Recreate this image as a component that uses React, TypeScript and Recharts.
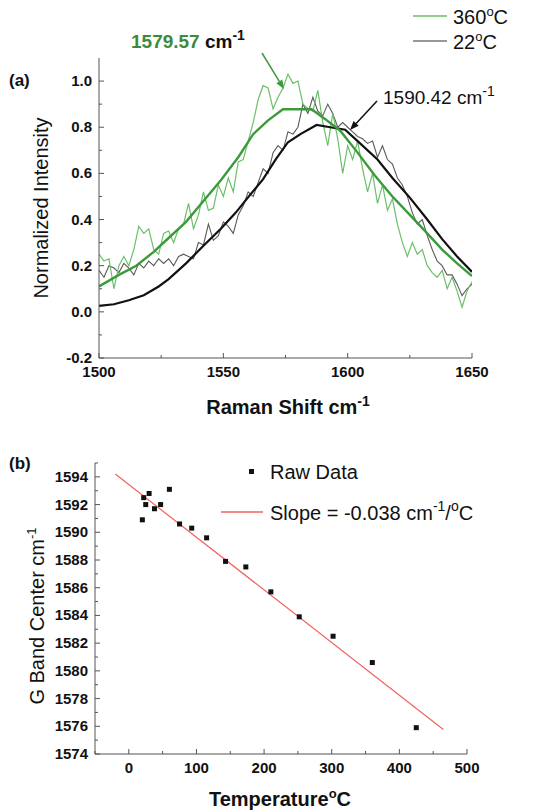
import React from "react";
import {
  LineChart,
  ComposedChart,
  Line,
  Scatter,
  XAxis,
  YAxis,
} from "recharts";

// (a) Raman spectra
const ramanShift = [
  1500, 1502, 1504, 1506, 1508, 1510, 1512, 1514, 1516, 1518, 1520, 1522, 1524, 1526, 1528, 1530,
  1532, 1534, 1536, 1538, 1540, 1542, 1544, 1546, 1548, 1550, 1552, 1554, 1556, 1558, 1560, 1562,
  1564, 1566, 1568, 1570, 1572, 1574, 1576, 1578, 1580, 1582, 1584, 1586, 1588, 1590, 1592, 1594,
  1596, 1598, 1600, 1602, 1604, 1606, 1608, 1610, 1612, 1614, 1616, 1618, 1620, 1622, 1624, 1626,
  1628, 1630, 1632, 1634, 1636, 1638, 1640, 1642, 1644, 1646, 1648, 1650,
];
const raw360 = [
  0.25, 0.22, 0.23, 0.1, 0.2, 0.24, 0.2, 0.27, 0.37, 0.34, 0.36, 0.27, 0.25, 0.34, 0.35, 0.3,
  0.36, 0.38, 0.47, 0.36, 0.42, 0.52, 0.44, 0.45, 0.55, 0.5, 0.58, 0.52, 0.65, 0.66, 0.74, 0.82,
  0.92, 0.98, 0.97, 0.88, 0.93, 0.97, 1.03, 0.99, 1.0, 0.9, 0.88, 0.87, 0.96, 0.82, 0.72, 0.86,
  0.75, 0.6, 0.72, 0.66, 0.74, 0.62, 0.52, 0.6, 0.47, 0.55, 0.44, 0.49, 0.38, 0.3, 0.24, 0.3,
  0.25, 0.27, 0.2, 0.17, 0.15, 0.18, 0.1, 0.15, 0.09, 0.02, 0.09, 0.13,
];
const raw22 = [
  0.18, 0.15, 0.2, 0.19, 0.17, 0.21, 0.19, 0.16, 0.21, 0.19, 0.22, 0.2, 0.23, 0.21, 0.23, 0.2,
  0.24, 0.25, 0.24, 0.23, 0.3, 0.29, 0.38, 0.31, 0.33, 0.39, 0.37, 0.34, 0.42, 0.46, 0.52, 0.5,
  0.56, 0.62, 0.6, 0.69, 0.72, 0.7, 0.78, 0.77, 0.8, 0.9, 0.86, 0.93, 0.87, 0.85, 0.9, 0.86,
  0.8, 0.82, 0.8, 0.78, 0.76, 0.75, 0.73, 0.74, 0.67, 0.72, 0.66, 0.64, 0.58, 0.55, 0.5, 0.43,
  0.38, 0.4, 0.33, 0.27, 0.22, 0.2, 0.16, 0.16, 0.12, 0.07, 0.1, 0.12,
];
const fit360X = [
  1500, 1508, 1515, 1522, 1528, 1535, 1542, 1549, 1556, 1562, 1568, 1574, 1585.5, 1591, 1597,
  1604, 1611, 1618, 1625, 1632, 1638, 1644, 1650,
];
const fit360Y = [
  0.11, 0.16, 0.2, 0.26, 0.32, 0.39, 0.48, 0.57, 0.67, 0.77, 0.83, 0.878, 0.878, 0.835, 0.785,
  0.69, 0.59, 0.5, 0.42, 0.34, 0.27, 0.21, 0.155,
];
const fit22X = [
  1500, 1506, 1512, 1518, 1524, 1528, 1535, 1542, 1549, 1555, 1561, 1566, 1571, 1576, 1581,
  1587.5, 1593, 1599, 1605, 1612, 1618, 1625, 1632, 1638, 1644, 1650,
];
const fit22Y = [
  0.026, 0.033, 0.05, 0.072, 0.11, 0.142, 0.21, 0.286, 0.36, 0.43, 0.51, 0.575, 0.66, 0.735,
  0.77, 0.81, 0.8, 0.789, 0.73, 0.66, 0.58, 0.495, 0.4, 0.315, 0.24, 0.173,
];
const ramanTicks = [1500, 1525, 1550, 1575, 1600, 1625, 1650];
const ramanMajor = [1500, 1550, 1600, 1650];
const intensityTicks = [-0.2, -0.1, 0, 0.1, 0.2, 0.3, 0.4, 0.5, 0.6, 0.7, 0.8, 0.9, 1.0];
const intensityMajor = [-0.2, 0, 0.2, 0.4, 0.6, 0.8, 1.0];

// (b) G band centre vs temperature
const tempC = [20, 22, 25, 30, 38, 47, 60, 75, 93, 115, 143, 173, 210, 252, 302, 360, 425];
const gBand = [
  1590.9, 1592.5, 1592.0, 1592.8, 1591.7, 1592.0, 1593.1, 1590.6, 1590.3, 1589.6, 1587.9,
  1587.5, 1585.7, 1583.9, 1582.5, 1580.6, 1575.9,
];
const slopeT = [-20, 465];
const slopeG = [1594.2, 1575.77];
const tempTicks = [-50, 0, 50, 100, 150, 200, 250, 300, 350, 400, 450, 500];
const tempMajor = [0, 100, 200, 300, 400, 500];
const gTicks = [
  1574, 1575, 1576, 1577, 1578, 1579, 1580, 1581, 1582, 1583, 1584, 1585, 1586, 1587, 1588,
  1589, 1590, 1591, 1592, 1593, 1594, 1595,
];
const gMajor = [1574, 1576, 1578, 1580, 1582, 1584, 1586, 1588, 1590, 1592, 1594];

const zip = (xs: number[], ys: number[]) => xs.map((x, i) => ({ x, y: ys[i] }));

const FONT = "'Liberation Sans', Arial, sans-serif";
const AXIS = "#555";

function xTick(major: number[], fmt: (v: number) => string) {
  return (props: any) => {
    const { x, y, payload } = props;
    const isMajor = major.includes(payload.value);
    return (
      <g>
        <line x1={x} x2={x} y1={y} y2={y - (isMajor ? 5 : 3)} stroke={AXIS} />
        {isMajor && (
          <text x={x} y={y + 19} textAnchor="middle" fontSize={15} fontWeight="bold" fill="#111" fontFamily={FONT}>
            {fmt(payload.value)}
          </text>
        )}
      </g>
    );
  };
}

function yTick(major: number[], fmt: (v: number) => string) {
  return (props: any) => {
    const { x, y, payload } = props;
    const isMajor = major.some((m) => Math.abs(m - payload.value) < 1e-9);
    return (
      <g>
        <line x1={x} x2={x + (isMajor ? 5 : 3)} y1={y} y2={y} stroke={AXIS} />
        {isMajor && (
          <text x={x - 7} y={y + 5} textAnchor="end" fontSize={15} fontWeight="bold" fill="#111" fontFamily={FONT}>
            {fmt(payload.value)}
          </text>
        )}
      </g>
    );
  };
}

const Square = (props: any) => {
  const { cx, cy } = props;
  return <rect x={cx - 2.5} y={cy - 2.5} width={5} height={5} fill="#111" />;
};

function Arrow({ x1, y1, x2, y2, color }: { x1: number; y1: number; x2: number; y2: number; color: string }) {
  const a = Math.atan2(y2 - y1, x2 - x1);
  const L = 9;
  const W = 3.5;
  const bx = x2 - L * Math.cos(a);
  const by = y2 - L * Math.sin(a);
  const px = -Math.sin(a) * W;
  const py = Math.cos(a) * W;
  return (
    <g>
      <line x1={x1} y1={y1} x2={bx} y2={by} stroke={color} strokeWidth={1.5} />
      <polygon points={`${x2},${y2} ${bx + px},${by + py} ${bx - px},${by - py}`} fill={color} />
    </g>
  );
}

export default function App() {
  return (
    <div style={{ position: "absolute", left: 0, top: 0, width: 544, height: 812, background: "#fff" }}>
      <div style={{ position: "absolute", left: 0, top: 0 }}>
        <LineChart width={544} height={420} margin={{ top: 58, right: 72, bottom: 32, left: 59 }}>
          <XAxis
            type="number"
            dataKey="x"
            domain={[1500, 1650]}
            ticks={ramanTicks}
            interval={0}
            allowDataOverflow
            height={30}
            tickSize={0}
            tickMargin={0}
            tickLine={false}
            stroke={AXIS}
            tick={xTick(ramanMajor, (v) => String(v))}
          />
          <YAxis
            type="number"
            domain={[-0.2, 1.1]}
            ticks={intensityTicks}
            interval={0}
            allowDataOverflow
            width={40}
            tickSize={0}
            tickMargin={0}
            tickLine={false}
            stroke={AXIS}
            tick={yTick(intensityMajor, (v) => v.toFixed(1))}
          />
          <Line data={zip(ramanShift, raw22)} dataKey="y" stroke="#5a5a5a" strokeWidth={1.1} dot={false} isAnimationActive={false} />
          <Line data={zip(ramanShift, raw360)} dataKey="y" stroke="#6cbf6a" strokeWidth={1.2} dot={false} isAnimationActive={false} />
          <Line data={zip(fit22X, fit22Y)} dataKey="y" stroke="#111" strokeWidth={2.2} dot={false} isAnimationActive={false} />
          <Line data={zip(fit360X, fit360Y)} dataKey="y" stroke="#3c9a3c" strokeWidth={2.4} dot={false} isAnimationActive={false} />
        </LineChart>
      </div>
      <div style={{ position: "absolute", left: 0, top: 420 }}>
        <ComposedChart width={544} height={392} margin={{ top: 43, right: 77, bottom: 28, left: 55 }}>
          <XAxis
            type="number"
            dataKey="x"
            domain={[-50, 500]}
            ticks={tempTicks}
            interval={0}
            allowDataOverflow
            height={30}
            tickSize={0}
            tickMargin={0}
            tickLine={false}
            stroke={AXIS}
            tick={xTick(tempMajor, (v) => String(v))}
          />
          <YAxis
            type="number"
            dataKey="y"
            domain={[1574, 1595]}
            ticks={gTicks}
            interval={0}
            allowDataOverflow
            width={40}
            tickSize={0}
            tickMargin={0}
            tickLine={false}
            stroke={AXIS}
            tick={yTick(gMajor, (v) => String(v))}
          />
          <Line data={zip(slopeT, slopeG)} dataKey="y" stroke="#f0625f" strokeWidth={1.2} dot={false} isAnimationActive={false} />
          <Scatter data={zip(tempC, gBand)} dataKey="y" shape={Square} isAnimationActive={false} />
        </ComposedChart>
      </div>
      <svg width={544} height={812} style={{ position: "absolute", left: 0, top: 0, pointerEvents: "none" }} fontFamily={FONT}>
        {/* panel (a) */}
        <text x={9} y={86} fontSize={17} fontWeight="bold" fill="#111">(a)</text>
        <text transform="translate(48,208) rotate(-90)" textAnchor="middle" fontSize={20} fill="#111">
          Normalized Intensity
        </text>
        <text x={288} y={414} textAnchor="middle" fontSize={20} fontWeight="bold" fill="#111">
          Raman Shift cm<tspan dy={-8} fontSize={14}>-1</tspan>
        </text>
        <line x1={413} x2={447} y1={16} y2={16} stroke="#6cbf6a" strokeWidth={1.3} />
        <text x={453} y={24} fontSize={20} fill="#111">
          360<tspan dy={-8} fontSize={13}>o</tspan><tspan dy={8}>C</tspan>
        </text>
        <line x1={413} x2={447} y1={41} y2={41} stroke="#333" strokeWidth={1.1} />
        <text x={453} y={49} fontSize={20} fill="#111">
          22<tspan dy={-8} fontSize={13}>o</tspan><tspan dy={8}>C</tspan>
        </text>
        <text x={131} y={48} fontSize={19} fontWeight="bold" fill="#3c8a3c">
          1579.57<tspan fill="#111"> cm</tspan><tspan dy={-8} fontSize={14} fill="#111">-1</tspan>
        </text>
        <Arrow x1={262} y1={53} x2={284} y2={89} color="#3c9a3c" />
        <text x={383} y={104} fontSize={19} fill="#111">
          1590.42 cm<tspan dy={-8} fontSize={14}>-1</tspan>
        </text>
        <Arrow x1={377} y1={101} x2={350} y2={130} color="#111" />

        {/* panel (b) */}
        <text x={9} y={469} fontSize={17} fontWeight="bold" fill="#111">(b)</text>
        <text transform="translate(44,616) rotate(-90)" textAnchor="middle" fontSize={20} fill="#111">
          G Band Center cm<tspan dy={-8} fontSize={13}>-1</tspan>
        </text>
        <text x={280} y={806} textAnchor="middle" fontSize={20} fontWeight="bold" fill="#111">
          Temperature<tspan dy={-8} fontSize={13}>o</tspan><tspan dy={8}>C</tspan>
        </text>
        <rect x={249} y={469} width={5} height={5} fill="#111" />
        <text x={270} y={479} fontSize={20} fill="#111">Raw Data</text>
        <line x1={221} x2={263} y1={512} y2={512} stroke="#f0625f" strokeWidth={1.3} />
        <text x={270} y={520} fontSize={20} fill="#111">
          Slope = -0.038 cm<tspan dy={-9} fontSize={14}>-1</tspan><tspan dy={9}>/</tspan>
          <tspan dy={-9} fontSize={14}>o</tspan><tspan dy={9}>C</tspan>
        </text>
      </svg>
    </div>
  );
}
